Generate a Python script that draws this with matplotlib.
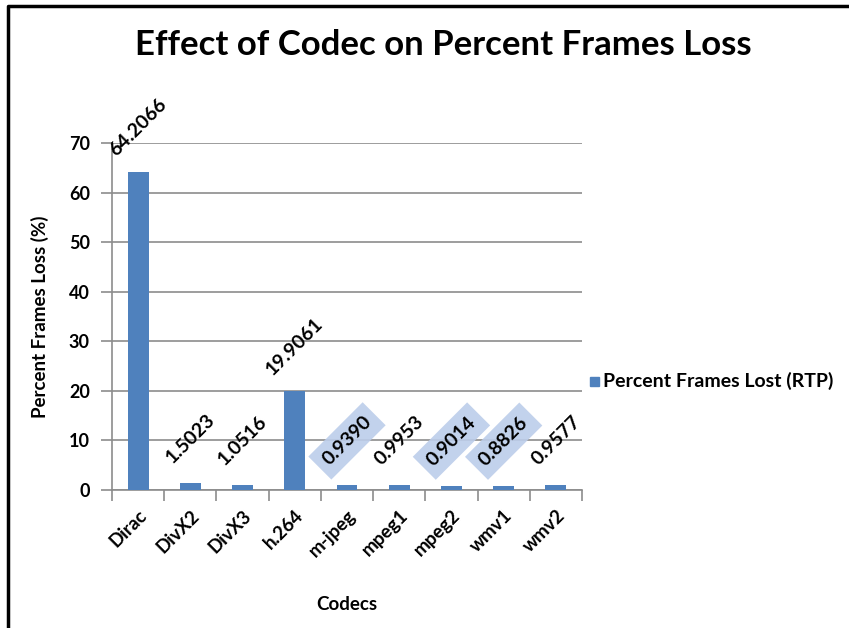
import matplotlib.pyplot as plt
from matplotlib.patches import Rectangle
from matplotlib.lines import Line2D

codecs = ['Dirac', 'DivX2', 'DivX3', 'h.264', 'm-jpeg', 'mpeg1', 'mpeg2', 'wmv1', 'wmv2']
loss = [64.2066, 1.5023, 1.0516, 19.9061, 0.9390, 0.9953, 0.9014, 0.8826, 0.9577]
labels = ['64.2066', '1.5023', '1.0516', '19.9061', '0.9390', '0.9953', '0.9014', '0.8826', '0.9577']
boxed = [False, False, False, False, True, False, True, True, False]

plt.rcParams['font.family'] = ['Lato', 'DejaVu Sans']
blue = '#4f81bd'
grey = '#8c8c8c'

fig = plt.figure(figsize=(8.49, 6.28), dpi=100)
ax = fig.add_axes([112 / 849, 1 - 490 / 628, 470 / 849, 347 / 628])

x = list(range(len(codecs)))
ax.bar(x, loss, width=0.4, color=blue, zorder=3)

ax.set_xlim(-0.5, len(codecs) - 0.5)
ax.set_ylim(0, 70)
ax.set_yticks(range(0, 71, 10))
ax.yaxis.grid(True, color=grey, linewidth=1.2, zorder=0)

# ticks between categories, labels at centres
ax.set_xticks([i - 0.5 for i in range(len(codecs) + 1)])
ax.set_xticklabels([])
ax.set_xticks(x, minor=True)
ax.set_xticklabels(codecs, minor=True, rotation=45, ha='right', rotation_mode='anchor',
                   fontsize=13.5, fontweight='bold')
ax.tick_params(axis='x', which='major', length=8, color=grey, width=1.2)
ax.tick_params(axis='x', which='minor', length=0, pad=12)
ax.tick_params(axis='y', length=8, color=grey, width=1.2, labelsize=13, pad=8)
for t in ax.get_yticklabels():
    t.set_fontweight('bold')

for s in ['top', 'right']:
    ax.spines[s].set_visible(False)
for s in ['left', 'bottom']:
    ax.spines[s].set_color(grey)
    ax.spines[s].set_linewidth(1.2)

for xi, v, lab, b in zip(x, loss, labels, boxed):
    kw = {}
    if b:
        kw['bbox'] = dict(boxstyle='square,pad=0.4', fc='#bccdea', ec='none', alpha=0.9)
    ax.annotate(lab, (xi, v), xytext=(0, 32), textcoords='offset points',
                rotation=45, ha='center', va='center', fontsize=14, fontweight='bold',
                annotation_clip=False, zorder=4, **kw)

ax.set_ylabel('Percent Frames Loss (%)', fontsize=13.5, fontweight='bold', labelpad=14)
ax.set_xlabel('Codecs', fontsize=13.5, fontweight='bold', labelpad=26)

fig.text(0.522, 1 - 45 / 628, 'Effect of Codec on Percent Frames Loss', ha='center', va='center',
         fontsize=25, fontweight='bold')

# legend
fig.patches.append(Rectangle((590 / 849, 1 - 386 / 628), 9 / 849, 9 / 628,
                             transform=fig.transFigure, color=blue))
fig.text(603 / 849, 1 - 381 / 628, 'Percent Frames Lost (RTP)', ha='left', va='center',
         fontsize=14, fontweight='bold')

# outer frame
fig.lines.append(Line2D([8 / 849, 8 / 849, 1], [0, 1 - 6 / 628, 1 - 6 / 628],
                        transform=fig.transFigure, color='black', linewidth=2.5))

fig.savefig('out.png', dpi=100)
